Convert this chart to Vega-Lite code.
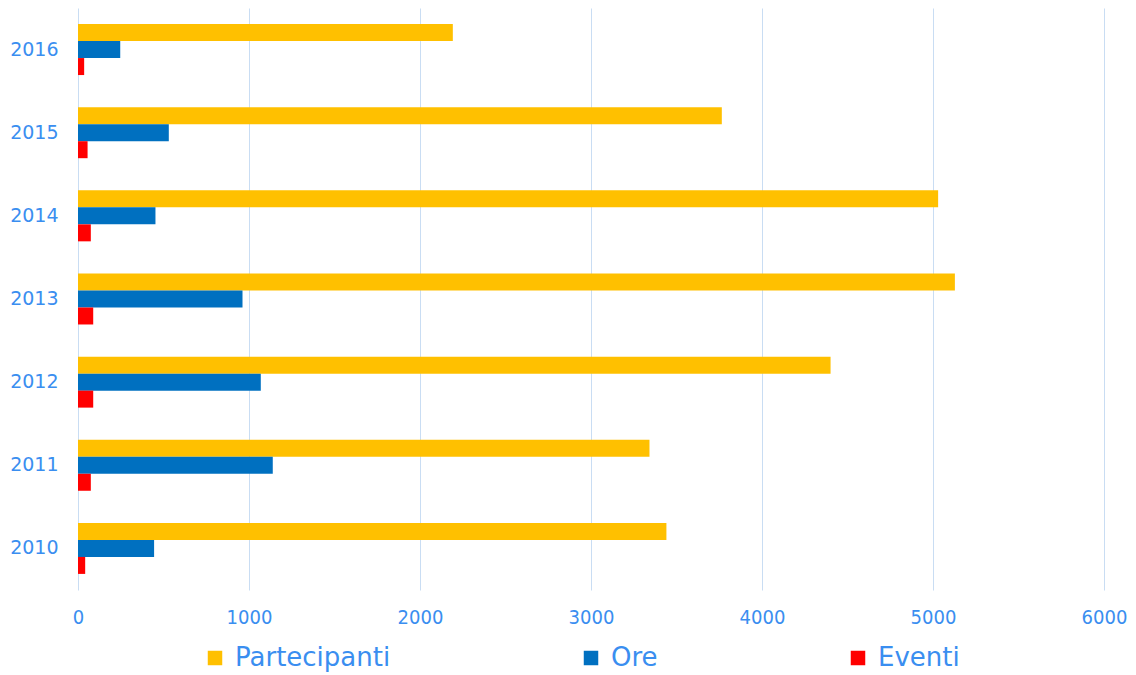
{
  "$schema": "https://vega.github.io/schema/vega-lite/v6.json",
  "width": 1026,
  "height": 582,
  "autosize": {"type": "none"},
  "padding": {"left": 78, "top": 8, "right": 32, "bottom": 85},
  "background": "white",
  "config": {
    "view": {"stroke": null},
    "font": "DejaVu Sans"
  },
  "data": {
    "values": [
      {"year": "2016", "series": "Partecipanti", "value": 2192},
      {"year": "2016", "series": "Ore", "value": 247},
      {"year": "2016", "series": "Eventi", "value": 36},
      {"year": "2015", "series": "Partecipanti", "value": 3765},
      {"year": "2015", "series": "Ore", "value": 531},
      {"year": "2015", "series": "Eventi", "value": 56},
      {"year": "2014", "series": "Partecipanti", "value": 5030},
      {"year": "2014", "series": "Ore", "value": 453},
      {"year": "2014", "series": "Eventi", "value": 75},
      {"year": "2013", "series": "Partecipanti", "value": 5128},
      {"year": "2013", "series": "Ore", "value": 962},
      {"year": "2013", "series": "Eventi", "value": 89},
      {"year": "2012", "series": "Partecipanti", "value": 4401},
      {"year": "2012", "series": "Ore", "value": 1069},
      {"year": "2012", "series": "Eventi", "value": 89},
      {"year": "2011", "series": "Partecipanti", "value": 3342},
      {"year": "2011", "series": "Ore", "value": 1139},
      {"year": "2011", "series": "Eventi", "value": 75},
      {"year": "2010", "series": "Partecipanti", "value": 3441},
      {"year": "2010", "series": "Ore", "value": 445},
      {"year": "2010", "series": "Eventi", "value": 42}
    ]
  },
  "mark": {"type": "bar"},
  "encoding": {
    "y": {
      "field": "year",
      "type": "nominal",
      "sort": "descending",
      "scale": {"paddingInner": 0.387, "paddingOuter": 0.1935},
      "axis": {
        "title": null,
        "domain": false,
        "ticks": false,
        "grid": false,
        "labelPadding": 20,
        "labelFont": "DejaVu Sans",
        "labelFontSize": 19,
        "labelColor": "#3a8ef0"
      }
    },
    "yOffset": {
      "field": "series",
      "type": "nominal",
      "sort": ["Partecipanti", "Ore", "Eventi"],
      "scale": {"paddingInner": 0, "paddingOuter": 0}
    },
    "x": {
      "field": "value",
      "type": "quantitative",
      "scale": {"domain": [0, 6000], "nice": false},
      "axis": {
        "title": null,
        "domain": false,
        "ticks": false,
        "grid": true,
        "gridColor": "#c9ddf3",
        "gridWidth": 1,
        "values": [0, 1000, 2000, 3000, 4000, 5000, 6000],
        "format": "d",
        "labelPadding": 17,
        "labelFont": "DejaVu Sans Condensed",
        "labelFontSize": 20,
        "labelColor": "#3a8ef0",
        "labelFlush": false
      }
    },
    "color": {
      "field": "series",
      "type": "nominal",
      "sort": ["Partecipanti", "Ore", "Eventi"],
      "scale": {
        "domain": ["Partecipanti", "Ore", "Eventi"],
        "range": ["#FFC000", "#0070C0", "#FF0000"]
      },
      "legend": {
        "title": null,
        "orient": "none",
        "legendX": 124,
        "legendY": 637,
        "direction": "horizontal",
        "columns": 3,
        "columnPadding": 187,
        "symbolType": "square",
        "symbolSize": 210,
        "symbolStrokeWidth": 0,
        "labelOffset": 7,
        "labelFont": "DejaVu Sans",
        "labelFontSize": 26,
        "labelColor": "#3a8ef0",
        "labelLimit": 400,
        "labelExpr": "datum.label == 'Partecipanti' ? '\u00a0' + datum.label : datum.label"
      }
    }
  }
}
